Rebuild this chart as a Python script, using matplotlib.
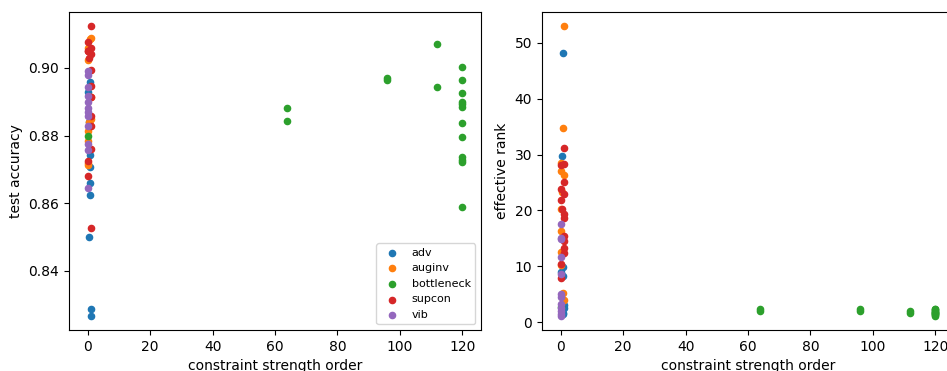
import matplotlib
matplotlib.use("Agg")
import matplotlib.pyplot as plt

# per-method results: constraint strength order, test accuracy, effective rank
methods = ["adv", "auginv", "bottleneck", "supcon", "vib"]

adv_order = [0.8, 0.4, 0.6, 0.8, 0.6, 0.8, 0.4, 1.0, 1.0, 0.2]
adv_acc = [0.8960, 0.8839, 0.8741, 0.8707, 0.8660, 0.8625, 0.8500, 0.8285, 0.8267, 0.8930]
adv_rank = [48.2, 29.7, 9.9, 8.3, 1.7, 1.5, 2.0, 2.5, 3.0, 8.9]

auginv_order = [1.0, 0.6, 0.2, 0.0, 1.0, 0.4, 0.0, 0.0, 0.0, 0.2, 0.6, 1.0]
auginv_acc = [0.9089, 0.9085, 0.9025, 0.9060, 0.8914, 0.8839, 0.8814, 0.8783, 0.8714, 0.8720, 0.8830, 0.8850]
auginv_rank = [52.9, 34.8, 28.5, 27.0, 26.3, 23.3, 20.2, 16.4, 12.6, 10.2, 5.2, 3.9]

bottleneck_order = [0, 64, 64, 96, 96, 112, 112, 120, 120, 120, 120, 120, 120, 120, 120, 120, 120, 120, 120]
bottleneck_acc = [0.8800, 0.8881, 0.8843, 0.8970, 0.8965, 0.9071, 0.8944, 0.9003, 0.8963, 0.8926,
                  0.8900, 0.8893, 0.8884, 0.8837, 0.8795, 0.8737, 0.8729, 0.8721, 0.8589]
bottleneck_rank = [2.8, 2.4, 2.1, 2.3, 2.1, 2.0, 1.7, 2.4, 2.3, 2.2, 2.0, 1.9, 1.8, 1.7, 1.6, 1.5, 1.4, 1.3, 1.2]

supcon_order = [1.0, 0.0, 1.0, 0.2, 1.0, 0.0, 0.4, 1.0, 1.0, 1.0, 1.0, 1.0, 1.0, 0.0, 0.0, 1.0]
supcon_acc = [0.9123, 0.9076, 0.9059, 0.9049, 0.9042, 0.9050, 0.9030, 0.8993, 0.8946, 0.8914,
              0.8859, 0.8827, 0.8760, 0.8724, 0.8681, 0.8526]
supcon_rank = [31.2, 28.1, 25.1, 23.9, 22.9, 21.8, 20.3, 19.4, 18.7, 15.4, 14.5, 13.3, 12.3, 10.5, 7.9, 28.3]

vib_order = [0.0, 0.0, 0.0, 0.0, 0.0, 0.0, 0.0, 0.0, 0.0, 0.0, 0.0, 0.0]
vib_acc = [0.8990, 0.8980, 0.8944, 0.8916, 0.8900, 0.8882, 0.8870, 0.8858, 0.8827, 0.8776, 0.8756, 0.8645]
vib_rank = [17.6, 14.8, 11.7, 8.6, 5.0, 3.2, 1.4, 2.0, 15.0, 4.5, 2.6, 1.2]

data = {
    "adv": (adv_order, adv_acc, adv_rank),
    "auginv": (auginv_order, auginv_acc, auginv_rank),
    "bottleneck": (bottleneck_order, bottleneck_acc, bottleneck_rank),
    "supcon": (supcon_order, supcon_acc, supcon_rank),
    "vib": (vib_order, vib_acc, vib_rank),
}

fig = plt.figure(figsize=(9.47, 3.71), dpi=100)
ax1 = fig.add_axes([69 / 947, 41 / 371, 412 / 947, 318 / 371])
ax2 = fig.add_axes([542 / 947, 41 / 371, 412 / 947, 318 / 371])

for name in methods:
    order, acc, rank = data[name]
    ax1.scatter(order, acc, s=20, label=name)
    ax2.scatter(order, rank, s=20, label=name)

ax1.set_xlabel("constraint strength order")
ax1.set_ylabel("test accuracy")
ax1.legend(loc="lower right", fontsize=8)

ax2.set_xlabel("constraint strength order")
ax2.set_ylabel("effective rank")

fig.savefig("out.png", dpi=100)
